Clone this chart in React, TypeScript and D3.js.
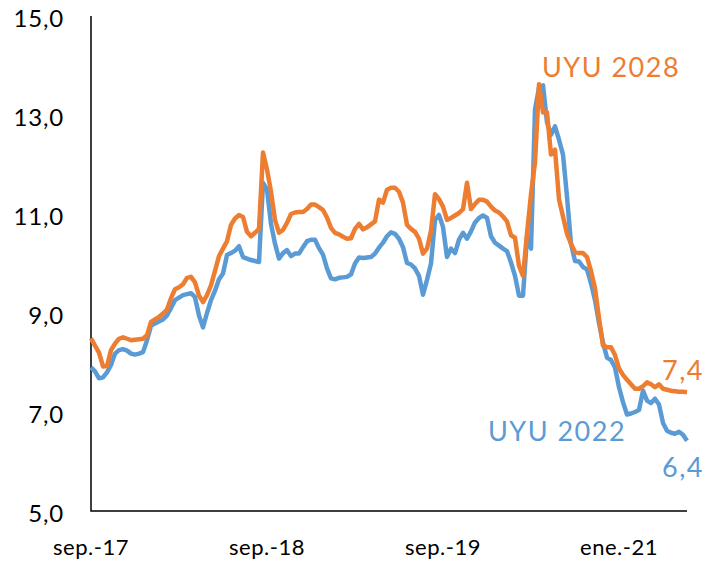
import React, { useEffect, useRef } from "react";
import * as d3 from "d3";

// observations sampled along the category axis (one value per step)
const uyu2028 = [
  8.49, 8.34, 8.2, 7.92, 7.93, 8.25, 8.38, 8.48, 8.51, 8.48,
  8.45, 8.46, 8.47, 8.48, 8.55, 8.82, 8.87, 8.92, 8.99, 9.07,
  9.3, 9.48, 9.52, 9.58, 9.71, 9.73, 9.62, 9.35, 9.22, 9.36,
  9.56, 9.85, 10.15, 10.3, 10.45, 10.78, 10.91, 10.98, 10.94, 10.64,
  10.55, 10.62, 10.7, 12.24, 11.9, 11.45, 10.88, 10.62, 10.68, 10.82,
  11.0, 11.03, 11.04, 11.04, 11.1, 11.19, 11.19, 11.14, 11.08, 10.93,
  10.72, 10.62, 10.59, 10.54, 10.5, 10.51, 10.7, 10.8, 10.69, 10.73,
  10.79, 10.85, 11.29, 11.23, 11.49, 11.53, 11.53, 11.45, 11.23, 10.78,
  10.7, 10.64, 10.5, 10.2, 10.3, 10.66, 11.4, 11.3, 11.15, 10.88,
  10.92, 10.97, 11.02, 11.1, 11.63, 11.1, 11.2, 11.29, 11.29, 11.25,
  11.15, 11.07, 11.03, 10.95, 10.85, 10.57, 10.52, 9.95, 9.75, 10.6,
  11.4, 12.04, 13.62, 13.05, 13.05, 12.2, 12.3, 11.3, 10.95, 10.6,
  10.4, 10.23, 10.21, 10.21, 10.13, 9.85, 9.5, 8.9, 8.34, 8.31,
  8.31, 8.15, 7.88, 7.75, 7.65, 7.56, 7.47, 7.47, 7.52, 7.6,
  7.56, 7.5, 7.56, 7.47, 7.45, 7.43, 7.42, 7.41, 7.41, 7.4,
];

const uyu2022 = [
  7.9, 7.82, 7.68, 7.7, 7.8, 7.95, 8.18, 8.25, 8.27, 8.24,
  8.18, 8.16, 8.18, 8.21, 8.45, 8.74, 8.79, 8.83, 8.87, 8.95,
  9.1, 9.26, 9.31, 9.36, 9.38, 9.4, 9.32, 8.95, 8.71, 9.0,
  9.26, 9.45, 9.68, 9.8, 10.17, 10.21, 10.26, 10.35, 10.13, 10.1,
  10.07, 10.05, 10.03, 11.63, 11.49, 10.8, 10.4, 10.1, 10.21, 10.27,
  10.15, 10.2, 10.2, 10.33, 10.45, 10.48, 10.48, 10.31, 10.18, 9.9,
  9.7, 9.68, 9.71, 9.72, 9.73, 9.78, 10.0, 10.12, 10.11, 10.12,
  10.13, 10.2, 10.32, 10.42, 10.55, 10.63, 10.6, 10.5, 10.33, 10.01,
  9.98, 9.9, 9.75, 9.37, 9.67, 10.0, 10.88, 10.98, 10.74, 10.13,
  10.3, 10.21, 10.48, 10.62, 10.5, 10.65, 10.83, 10.92, 10.97, 10.92,
  10.55, 10.42, 10.36, 10.3, 10.25, 10.02, 9.75, 9.35, 9.35, 10.54,
  10.3, 13.11, 13.55, 13.6, 12.85, 12.6, 12.77, 12.5, 12.2, 11.35,
  10.4, 10.05, 10.04, 9.93, 9.88, 9.6, 9.26, 8.8, 8.4, 8.1,
  8.05, 7.9, 7.5, 7.2, 6.95, 6.97, 7.0, 7.04, 7.43, 7.23,
  7.18, 7.27, 7.15, 6.78, 6.62, 6.58, 6.56, 6.6, 6.54, 6.42,
];

const xTickIndex = [0, 44, 88, 132];
const xTickLabels = ["sep.-17", "sep.-18", "sep.-19", "ene.-21"];
const yTicks = [5, 7, 9, 11, 13, 15];

const ORANGE = "#ED7D31";
const BLUE = "#5B9BD5";
const FONT = "Lato, 'DejaVu Sans', sans-serif";

export default function App() {
  const ref = useRef<SVGSVGElement>(null);

  useEffect(() => {
    const width = 718;
    const height = 563;
    const svg = d3.select(ref.current);
    svg.selectAll("*").remove();
    svg.attr("width", width).attr("height", height);

    const x = d3.scaleLinear().domain([0, uyu2028.length - 1]).range([91, 687]);
    const y = d3.scaleLinear().domain([5, 15]).range([511, 16]);

    // y tick labels
    svg
      .append("g")
      .selectAll("text")
      .data(yTicks)
      .enter()
      .append("text")
      .attr("x", 64)
      .attr("y", d => y(d) + 3)
      .attr("dy", "0.35em")
      .attr("text-anchor", "end")
      .attr("font-family", FONT)
      .attr("font-size", 24)
      .attr("letter-spacing", 0.8)
      .attr("fill", "#000")
      .text(d => d3.format(".1f")(d).replace(".", ","));

    // x tick labels
    svg
      .append("g")
      .selectAll("text")
      .data(xTickIndex)
      .enter()
      .append("text")
      .attr("x", d => x(d))
      .attr("y", 555)
      .attr("text-anchor", "middle")
      .attr("font-family", FONT)
      .attr("font-size", 22)
      .attr("letter-spacing", 0.5)
      .attr("fill", "#000")
      .text((d, i) => xTickLabels[i]);

    // axes lines
    svg
      .append("path")
      .attr("d", `M${x(0)},${y(15)}V${y(5)}H${x(uyu2028.length - 1)}`)
      .attr("fill", "none")
      .attr("stroke", "#000")
      .attr("stroke-width", 1.5);

    const line = d3
      .line<number>()
      .x((d, i) => x(i))
      .y(d => y(d));

    svg
      .append("path")
      .datum(uyu2022)
      .attr("d", line)
      .attr("fill", "none")
      .attr("stroke", BLUE)
      .attr("stroke-width", 4.5)
      .attr("stroke-linejoin", "round");

    svg
      .append("path")
      .datum(uyu2028)
      .attr("d", line)
      .attr("fill", "none")
      .attr("stroke", ORANGE)
      .attr("stroke-width", 4.5)
      .attr("stroke-linejoin", "round");

    // series labels
    const labels = [
      { text: "UYU 2028", x: 611, y: 68, color: ORANGE },
      { text: "UYU 2022", x: 557, y: 432, color: BLUE },
      { text: "7,4", x: 683, y: 371, color: ORANGE },
      { text: "6,4", x: 683, y: 468, color: BLUE },
    ];
    svg
      .append("g")
      .selectAll("text")
      .data(labels)
      .enter()
      .append("text")
      .attr("x", d => d.x)
      .attr("y", d => d.y)
      .attr("dy", "0.35em")
      .attr("text-anchor", "middle")
      .attr("font-family", FONT)
      .attr("font-size", 27)
      .attr("letter-spacing", 1.5)
      .attr("fill", d => d.color)
      .text(d => d.text);
  }, []);

  return (
    <svg
      ref={ref}
      style={{ position: "absolute", left: 0, top: 0, display: "block" }}
    />
  );
}
